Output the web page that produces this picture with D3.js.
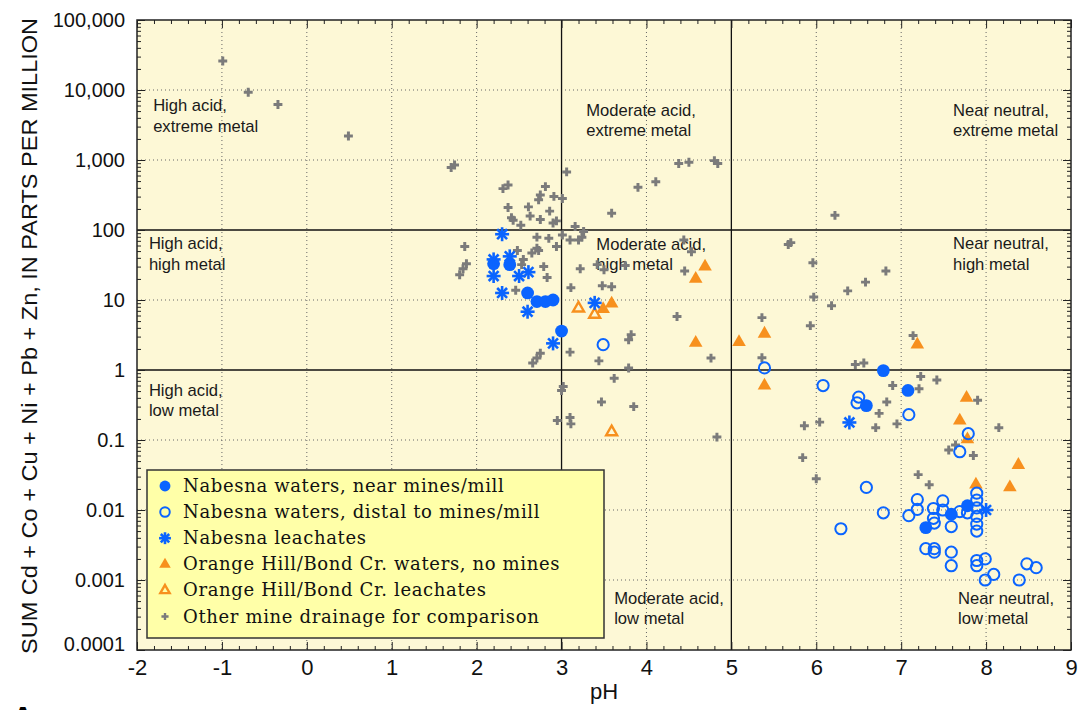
<!DOCTYPE html>
<html><head><meta charset="utf-8">
<script src="https://cdn.jsdelivr.net/npm/d3@7"></script>
<style>body{margin:0;background:#fff}svg{display:block}</style>
</head><body>
<svg id="chart" width="1078" height="710"></svg>
<script>
// ---------- data ----------
const xTickValues = [-2,-1,0,1,2,3,4,5,6,7,8,9];
const xTickLabels = ["-2","-1","0","1","2","3","4","5","6","7","8","9"];
const yTickValues = [1e-4,1e-3,1e-2,1e-1,1,10,100,1000,1e4,1e5];
const yTickLabels = ["0.0001","0.001","0.01","0.1","1","10","100","1,000","10,000","100,000"];
const seriesNames = ["Nabesna waters, near mines/mill","Nabesna waters, distal to mines/mill","Nabesna leachates",
  "Orange Hill/Bond Cr. waters, no mines","Orange Hill/Bond Cr. leachates","Other mine drainage for comparison"];

// [pH, sum metals ppm]
const otherDrainage = [
 [-0.99,26000],[-0.69,9300],[-0.34,6200],[0.49,2200],[1.70,780],[1.74,850],
 [2.31,390],[2.37,440],[2.37,210],[2.41,150],[2.43,138],[2.52,117],[2.61,214],[2.63,158],
 [2.73,270],[2.75,316],[2.81,417],[2.75,141],[2.86,186],[2.91,302],[3.01,282],[2.90,126],[2.94,135],
 [3.06,676],[2.71,79],[2.85,76],[3.90,407],[4.11,490],[3.59,174],[3.16,112],[3.26,95],[3.24,79],
 [3.20,72],[3.10,72],[3.01,85],[2.94,58],[1.86,58],[1.88,33],[1.84,28],[1.80,23],[2.48,51],[2.55,38],
 [2.53,32],[2.71,55],[2.73,51],[2.65,47],[2.79,30],[2.83,21],[3.22,28],[3.11,15],[3.48,16],[3.59,15.5],
 [2.46,13.8],[3.82,3.2],[3.79,2.7],[3.10,1.8],[2.75,1.74],[2.71,1.48],[2.66,1.26],[3.44,1.35],[3.79,1.07],
 [4.38,890],[4.50,930],[4.80,980],[4.84,890],[4.44,72],[4.53,49],[3.42,32],[3.50,27],[3.75,31],
 [4.45,26],[4.36,5.8],[4.76,1.48],[3.62,0.76],[3.02,0.58],[3.00,0.51],[3.47,0.35],[3.85,0.30],
 [3.10,0.21],[3.11,0.17],[2.95,0.19],[4.83,0.11],
 [6.22,162],[5.67,62],[5.70,66],[5.96,34],[6.82,26],[6.58,18],[6.37,13.5],[5.97,11],[6.18,8.3],
 [5.36,5.6],[5.93,4.3],[7.14,3.1],[5.36,1.5],[6.46,1.2],[6.56,1.26],[7.23,0.81],[7.42,0.72],[6.90,0.60],
 [7.21,0.54],[6.83,0.35],[6.74,0.24],[5.86,0.16],[6.04,0.18],[6.70,0.15],[6.95,0.17],[7.90,0.37],
 [8.15,0.15],[7.56,0.072],[7.64,0.085],[7.85,0.060],[5.84,0.056],[6.00,0.028],[7.20,0.032],[7.33,0.023]
];
const nabesnaNear = [
 [2.20,33],[2.39,32],[2.60,12.6],[2.71,9.5],[2.81,9.5],[2.90,10.0],[3.00,3.6],
 [6.79,0.98],[7.08,0.51],[6.59,0.31],[7.29,0.0056],[7.59,0.0087],[7.78,0.0115]
];
const nabesnaDistal = [
 [3.49,2.3],[5.39,1.07],[6.08,0.60],[6.50,0.41],[6.48,0.34],[7.09,0.23],[7.79,0.123],[7.69,0.068],
 [6.59,0.021],[6.29,0.0054],[6.79,0.0091],[7.09,0.0083],[7.19,0.0141],[7.19,0.0102],[7.38,0.0105],
 [7.49,0.0135],[7.49,0.0100],[7.38,0.0076],[7.39,0.0065],[7.59,0.0058],[7.69,0.0095],[7.78,0.0091],
 [7.89,0.0174],[7.89,0.0138],[7.89,0.0107],[7.89,0.0081],[7.89,0.0063],[7.89,0.0050],
 [7.29,0.0028],[7.39,0.0028],[7.39,0.0025],[7.59,0.0025],[7.59,0.0016],[7.89,0.0019],[7.89,0.0016],
 [7.99,0.0020],[8.09,0.0012],[7.99,0.0010],[8.39,0.0010],[8.48,0.0017],[8.59,0.0015]
];
const nabesnaLeach = [
 [2.30,87],[2.20,38],[2.20,22],[2.39,42],[2.30,12.6],[2.50,22],[2.61,25],[2.60,6.8],[2.90,2.4],
 [3.39,9.1],[6.39,0.178],[8.00,0.010]
];
const orangeWaters = [
 [4.69,30],[4.58,20],[3.59,8.9],[3.49,7.4],[4.58,2.45],[5.09,2.5],[5.39,3.3],[7.19,2.3],[5.39,0.60],
 [7.77,0.40],[7.69,0.19],[7.78,0.102],[8.38,0.044],[8.28,0.021],[7.88,0.023]
];
const orangeLeach = [[3.20,7.6],[3.39,6.2],[3.59,0.13]];

const quadrantLabels = [
 {lines:["High acid,","extreme metal"], ph:-1.81, v:5000},
 {lines:["Moderate acid,","extreme metal"], ph:3.29, v:4300},
 {lines:["Near neutral,","extreme metal"], ph:7.61, v:4300},
 {lines:["High acid,","high metal"], ph:-1.86, v:53},
 {lines:["Moderate acid,","high metal"], ph:3.41, v:52},
 {lines:["Near neutral,","high metal"], ph:7.61, v:53},
 {lines:["High acid,","low metal"], ph:-1.86, v:0.43},
 {lines:["Moderate acid,","low metal"], ph:3.62, v:0.00046},
 {lines:["Near neutral,","low metal"], ph:7.67, v:0.00046}
];

// ---------- layout ----------
const L=137, R=1071, T=20, B=650;
const svg = d3.select("#chart");
const x = d3.scaleLinear().domain([-2,9]).range([L,R]);
const y = d3.scaleLog().domain([1e-4,1e5]).range([B,T]);

const BLUE="#0a64ff", ORANGE="#f7901e", GRAY="#7b7b7b";

svg.append("rect").attr("x",L).attr("y",T).attr("width",R-L).attr("height",B-T).attr("fill","#fdf8d6");

// dotted grid
const g = svg.append("g");
xTickValues.filter(d=>d!==-2&&d!==9&&d!==3&&d!==5).forEach(d=>{
  g.append("line").attr("x1",x(d)).attr("x2",x(d)).attr("y1",T).attr("y2",B)
   .attr("stroke","#666").attr("stroke-width",1).attr("stroke-dasharray","1,3");
});
yTickValues.filter(d=>d!==1e-4&&d!==1e5&&d!==100&&d!==1).forEach(d=>{
  g.append("line").attr("x1",L).attr("x2",R).attr("y1",y(d)).attr("y2",y(d))
   .attr("stroke","#666").attr("stroke-width",1).attr("stroke-dasharray","1,3");
});
// quadrant boundaries
[3,5].forEach(d=>g.append("line").attr("x1",x(d)).attr("x2",x(d)).attr("y1",T).attr("y2",B).attr("stroke","#111").attr("stroke-width",1.3));
[100,1].forEach(d=>g.append("line").attr("x1",L).attr("x2",R).attr("y1",y(d)).attr("y2",y(d)).attr("stroke","#111").attr("stroke-width",1.3));

// quadrant labels
quadrantLabels.forEach(q=>{
  const t = svg.append("text").attr("x",x(q.ph)).attr("y",y(q.v)).attr("text-anchor","start")
    .attr("font-family","Liberation Sans, Arial, sans-serif").attr("font-size",16.6).attr("fill","#1a1a1a");
  q.lines.forEach((s,i)=>t.append("tspan").attr("x",x(q.ph)).attr("dy",i?20.5:0).text(s));
});

// minor tick values
const xMinor = d3.range(-2,9.001,0.2).map(v=>+v.toFixed(1)).filter(v=>Math.abs(v-Math.round(v))>1e-6);
const yMinor = [];
for(let e=-4;e<5;e++) for(let k=2;k<10;k++) yMinor.push(k*Math.pow(10,e));

const fontNum = "Liberation Sans Narrow, Arial Narrow, Liberation Sans, sans-serif";
function styleAxis(sel){ sel.select(".domain").remove(); sel.selectAll(".tick line").attr("stroke","#222"); }

// bottom
svg.append("g").attr("transform",`translate(0,${B})`)
  .call(d3.axisBottom(x).tickValues(xMinor).tickSize(-4).tickFormat("")).call(styleAxis);
const bx = svg.append("g").attr("transform",`translate(0,${B})`)
  .call(d3.axisBottom(x).tickValues(xTickValues).tickSize(-8).tickPadding(9).tickFormat((d,i)=>xTickLabels[i]));
styleAxis(bx);
bx.selectAll("text").attr("font-family",fontNum).attr("font-size",22).attr("fill","#111");
// top
svg.append("g").attr("transform",`translate(0,${T})`)
  .call(d3.axisTop(x).tickValues(xMinor).tickSize(-4).tickFormat("")).call(styleAxis);
svg.append("g").attr("transform",`translate(0,${T})`)
  .call(d3.axisTop(x).tickValues(xTickValues).tickSize(-8).tickFormat("")).call(styleAxis);
// left
svg.append("g").attr("transform",`translate(${L},0)`)
  .call(d3.axisLeft(y).tickValues(yMinor).tickSize(-4).tickFormat("")).call(styleAxis);
const ly = svg.append("g").attr("transform",`translate(${L},0)`)
  .call(d3.axisLeft(y).tickValues(yTickValues).tickSize(-8).tickPadding(12).tickFormat((d,i)=>yTickLabels[i]));
styleAxis(ly);
ly.selectAll("text").attr("font-family","Liberation Sans, Arial, sans-serif").attr("font-size",20).attr("fill","#111");
ly.selectAll(".tick").filter(d=>d===1e-4).select("text").attr("y",-6);
// right
svg.append("g").attr("transform",`translate(${R},0)`)
  .call(d3.axisRight(y).tickValues(yMinor).tickSize(-4).tickFormat("")).call(styleAxis);
svg.append("g").attr("transform",`translate(${R},0)`)
  .call(d3.axisRight(y).tickValues(yTickValues).tickSize(-8).tickFormat("")).call(styleAxis);

// frame
svg.append("rect").attr("x",L).attr("y",T).attr("width",R-L).attr("height",B-T)
  .attr("fill","none").attr("stroke","#222").attr("stroke-width",1.5);

// axis titles
svg.append("text").attr("x",(L+R)/2).attr("y",699).attr("text-anchor","middle")
  .attr("font-family",fontNum).attr("font-size",22).attr("fill","#111").text("pH");
svg.append("text").attr("transform","translate(37,336) rotate(-90)").attr("text-anchor","middle")
  .attr("font-family",fontNum).attr("font-size",22).attr("fill","#111")
  .attr("textLength",636).attr("lengthAdjust","spacingAndGlyphs")
  .text("SUM Cd + Co + Cu + Ni + Pb + Zn, IN PARTS PER MILLION");
svg.append("text").attr("x",12).attr("y",727).attr("font-family","Liberation Sans, Arial, sans-serif")
  .attr("font-weight","bold").attr("font-size",30).attr("fill","#000").text("A");

// ---------- markers ----------
function star(sel, r){
  [0,45,90,135].forEach(a=>{
    const rad=a*Math.PI/180;
    sel.append("line").attr("x1",-r*Math.cos(rad)).attr("y1",-r*Math.sin(rad))
      .attr("x2",r*Math.cos(rad)).attr("y2",r*Math.sin(rad))
      .attr("stroke",BLUE).attr("stroke-width",2.6);
  });
}
const drawers = [
  (s,sc)=>s.append("circle").attr("r",6.4*sc).attr("fill",BLUE),
  (s,sc)=>s.append("circle").attr("r",5.6*sc).attr("fill","none").attr("stroke",BLUE).attr("stroke-width",2),
  (s,sc)=>star(s,7*sc),
  (s,sc)=>s.append("path").attr("d",d3.symbol().type(d3.symbolTriangle).size(80*sc*sc)()).attr("fill",ORANGE),
  (s,sc)=>s.append("path").attr("d",d3.symbol().type(d3.symbolTriangle).size(52*sc*sc)()).attr("fill","none").attr("stroke",ORANGE).attr("stroke-width",2.4),
  (s,sc)=>s.append("path").attr("d",d3.symbol().type(d3.symbolCross).size(44*sc*sc)()).attr("fill",GRAY)
];
const seriesData = [nabesnaNear,nabesnaDistal,nabesnaLeach,orangeWaters,orangeLeach,otherDrainage];
const drawOrder = [5,3,4,1,0,2];
drawOrder.forEach(si=>{
  svg.append("g").selectAll("g").data(seriesData[si]).join("g")
    .attr("transform",d=>`translate(${x(d[0])},${y(d[1])})`)
    .each(function(){ drawers[si](d3.select(this),1); });
});

// ---------- legend ----------
const lg = svg.append("g");
lg.append("rect").attr("x",147).attr("y",470).attr("width",457).attr("height",168)
  .attr("fill","#ffffa8").attr("stroke","#333").attr("stroke-width",1.5);
seriesNames.forEach((name,i)=>{
  const cy = 486 + i*26.1;
  const m = lg.append("g").attr("transform",`translate(165,${cy})`);
  drawers[i](m, i===5?0.8:0.85);
  lg.append("text").attr("x",183).attr("y",cy+6).attr("font-family","DejaVu Serif, serif")
    .attr("font-size",18).attr("letter-spacing",0.65).attr("fill","#111").text(name);
});
</script>
</body></html>
